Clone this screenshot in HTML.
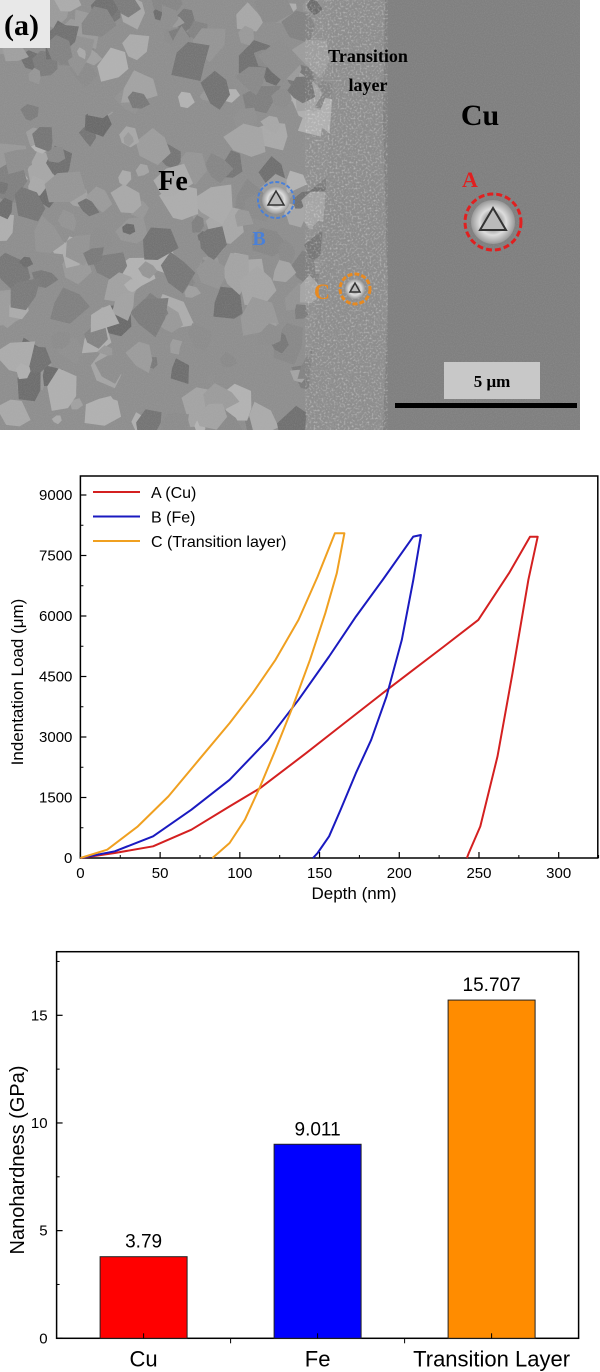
<!DOCTYPE html>
<html><head><meta charset="utf-8">
<style>
html,body{margin:0;padding:0;background:#fff;width:600px;height:1372px;overflow:hidden}
svg{display:block;position:absolute;left:0}
text{font-family:"Liberation Sans",Arial,sans-serif}
</style></head>
<body>
<svg id="sem" width="600" height="440" style="top:0">
  <defs>
    <clipPath id="imgclip"><rect x="0" y="0" width="580" height="430"/></clipPath>
    <filter id="noise" x="0" y="0" width="100%" height="100%">
      <feTurbulence type="fractalNoise" baseFrequency="0.9" numOctaves="2" seed="3"/>
      <feColorMatrix type="matrix" values="0 0 0 0 0.5  0 0 0 0 0.5  0 0 0 0 0.5  0 0 0 0.9 -0.3"/>
    </filter>
    <filter id="speck" x="0" y="0" width="100%" height="100%">
      <feTurbulence type="fractalNoise" baseFrequency="0.5" numOctaves="2" seed="7"/>
      <feColorMatrix type="matrix" values="0 0 0 0 1  0 0 0 0 1  0 0 0 0 1  0 0 0 3 -1.5"/>
    </filter>
    <radialGradient id="ind" cx="50%" cy="50%" r="50%">
      <stop offset="0" stop-color="#555"/><stop offset="0.6" stop-color="#ddd"/><stop offset="1" stop-color="#999"/>
    </radialGradient>
  </defs>
  <g clip-path="url(#imgclip)">
  <rect x="0" y="0" width="580" height="430" fill="#8e8e8e"/>
  <g id="grains"></g>
  <rect x="380" y="0" width="200" height="430" fill="#7f7f7f"/>
  <path d="M330 0 L385 0 L383 120 L388 300 L383 430 L305 430 L315 320 L325 200 L332 100 Z" fill="#8c8c8c"/>
  <path d="M330 0 L385 0 L383 120 L388 300 L383 430 L305 430 L315 320 L325 200 L332 100 Z" fill="#fff" filter="url(#speck)" opacity="0.35"/>
  <rect x="0" y="0" width="580" height="430" filter="url(#noise)" opacity="0.35"/>
  </g>
  <rect x="0" y="0" width="50" height="48" fill="#e8e8e8"/>
  <text x="4" y="35" font-weight="bold" font-size="30" style="font-family:'Liberation Serif',serif">(a)</text>
  <g font-weight="bold">
    <text x="368" y="62" font-size="18" text-anchor="middle" style="font-family:'Liberation Serif',serif">Transition</text>
    <text x="368" y="91" font-size="18" text-anchor="middle" style="font-family:'Liberation Serif',serif">layer</text>
    <text x="480" y="125" font-size="30" text-anchor="middle" style="font-family:'Liberation Serif',serif">Cu</text>
    <text x="173" y="190" font-size="28" text-anchor="middle" style="font-family:'Liberation Serif',serif">Fe</text>
    <text x="470" y="187" font-size="22" fill="#e02020" text-anchor="middle" style="font-family:'Liberation Serif',serif">A</text>
    <text x="259" y="245" font-size="20" fill="#4a80d8" text-anchor="middle" style="font-family:'Liberation Serif',serif">B</text>
    <text x="322" y="299" font-size="22" fill="#e88a20" text-anchor="middle" style="font-family:'Liberation Serif',serif">C</text>
  </g>
  <g>
    <circle cx="493" cy="222" r="22" fill="url(#ind)"/>
    <path d="M493 208 L480 230 L506 230 Z" fill="#bbb" stroke="#333" stroke-width="2"/>
    <circle cx="493" cy="222" r="28" fill="none" stroke="#e02020" stroke-width="3" stroke-dasharray="6 3"/>
  </g>
  <g>
    <circle cx="276" cy="200" r="14" fill="url(#ind)"/>
    <path d="M276 191 L268 205 L284 205 Z" fill="#bbb" stroke="#333" stroke-width="1.5"/>
    <circle cx="276" cy="200" r="18" fill="none" stroke="#4a80d8" stroke-width="2" stroke-dasharray="4 2"/>
  </g>
  <g>
    <circle cx="355" cy="289" r="10" fill="url(#ind)"/>
    <path d="M355 283 L350 292 L360 292 Z" fill="#bbb" stroke="#333" stroke-width="1.5"/>
    <circle cx="355" cy="289" r="15" fill="none" stroke="#e88a20" stroke-width="3" stroke-dasharray="5 2"/>
  </g>
  <rect x="444" y="362" width="96" height="37" fill="#c8c8c8"/>
  <text x="492" y="387" font-size="17" font-weight="bold" text-anchor="middle" style="font-family:'Liberation Serif',serif">5 μm</text>
  <rect x="395" y="403" width="182" height="5" fill="#000"/>
</svg>

<svg id="lc" width="600" height="480" style="top:440px">
  <g id="lcg" transform="translate(0,-440)"></g>
</svg>

<svg id="bc" width="600" height="452" style="top:920px">
  <g id="bcg" transform="translate(0,-920)"></g>
</svg>

<script>
// ---------- line chart data ----------
const aDepth = [0,21.6,45.6,69.6,93.6,112.8,141.6,165.6,189.6,208.8,228,249.6,268.8,282,286.8,281,271,261.6,250.8,243.6,242.4];
const aLoad  = [0,124,289,702,1280,1734,2601,3344,4087,4665,5243,5904,7060,7967,7967,6900,4583,2518,784,124,0];
const bDepth = [0,21.6,45.6,69.6,93.6,117.6,136.8,156,172.8,189.6,208.8,213.6,208.8,201.6,192,182.4,172.8,163.2,156,148.8,145.9];
const bLoad  = [0,165,537,1197,1940,2931,3922,4996,5986,6895,7968,8009,6895,5408,4004,2931,2106,1197,537,124,0];
const cDepth = [0,16.8,36,55.2,74.4,93.6,108,122.4,136.8,148.8,159.6,165.6,160.8,153.6,144,133.2,122.4,112.8,103.2,93.6,86.4,82.8];
const cLoad  = [0,206,784,1528,2436,3344,4087,4913,5904,6977,8051,8051,7060,6069,4913,3757,2684,1775,950,372,124,0];
const seriesNames = ["A (Cu)","B (Fe)","C (Transition layer)"];
const xTicks = [0,50,100,150,200,250,300];
const yTicks = [0,1500,3000,4500,6000,7500,9000];

// ---------- bar chart data ----------
const categories = ["Cu","Fe","Transition Layer"];
const hardness = [3.79,9.011,15.707];
const hardnessLabels = ["3.79","9.011","15.707"];
const barTicks = [0,5,10,15];

const NS="http://www.w3.org/2000/svg";
function mk(parent,tag,attrs,txt){const e=document.createElementNS(NS,tag);for(const k in attrs)e.setAttribute(k,attrs[k]);if(txt!=null)e.textContent=txt;parent.appendChild(e);return e;}

// SEM grains decoration (deterministic)
(function(){
  const g=document.getElementById('grains');
  let s=12345;function r(){s=(s*16807)%2147483647;return s/2147483647;}
  for(let i=0;i<260;i++){
    const cx=r()*335,cy=r()*430,rad=6+r()*16;
    const sh=Math.round(105+r()*75);
    let pts=[];const n=6;
    for(let k=0;k<n;k++){const a=k/n*Math.PI*2+r()*0.5;const rr=rad*(0.6+r()*0.6);pts.push((cx+Math.cos(a)*rr).toFixed(1)+','+(cy+Math.sin(a)*rr).toFixed(1));}
    const p=mk(g,'polygon',{points:pts.join(' '),fill:`rgb(${sh},${sh},${sh})`});
    
    
  }
})();

// ---------- line chart ----------
(function(){
  const g=document.getElementById('lcg');
  const L=80.4,R=597.8,T=476,B=858;
  const x=d=>L+d*(558.7-L)/300;
  const y=v=>B-v*(B-495)/9000;
  const box=mk(g,'rect',{x:L,y:T,width:R-L,height:B-T,fill:'none',stroke:'#000','stroke-width':1.5});
  
  
  xTicks.forEach(t=>{
    const l=mk(g,'line',{x1:x(t),x2:x(t),y1:B,y2:B-6,stroke:'#000','stroke-width':1.2});
    
    
    const m=mk(g,'line',{x1:x(t+25),x2:x(t+25),y1:B,y2:B-3,stroke:'#000','stroke-width':1});
    
    
    const tx=mk(g,'text',{x:x(t),y:B+20,'font-size':15,'text-anchor':'middle'},t);
    
    
  });
  yTicks.forEach(t=>{
    const l=mk(g,'line',{x1:L,x2:L+6,y1:y(t),y2:y(t),stroke:'#000','stroke-width':1.2});
    
    
    if(t<9000){
      const m=mk(g,'line',{x1:L,x2:L+3,y1:y(t+750),y2:y(t+750),stroke:'#000','stroke-width':1});
      
      
    }
    const tx=mk(g,'text',{x:L-8,y:y(t)+5,'font-size':15,'text-anchor':'end'},t);
    
    
  });
  const xt=mk(g,'text',{x:354,y:899,'font-size':17,'text-anchor':'middle'},'Depth (nm)');
  
  
  const yt=mk(g,'text',{x:0,y:0,'font-size':17,'text-anchor':'middle',transform:'translate(23,682) rotate(-90)'},'Indentation Load (μm)');
  
  
  const sets=[[aDepth,aLoad,'#d42020','series-a-cu'],[bDepth,bLoad,'#1a1ac0','series-b-fe'],[cDepth,cLoad,'#f0a020','series-c-transition']];
  sets.forEach(([dx,dy,col,nm],i)=>{
    const pts=dx.map((d,k)=>x(d).toFixed(1)+','+y(dy[k]).toFixed(1)).join(' ');
    const pl=mk(g,'polyline',{points:pts,fill:'none',stroke:col,'stroke-width':2,'stroke-linejoin':'round'});
    
    
    const ly=492+i*24.5;
    const ll=mk(g,'line',{x1:93,x2:140,y1:ly,y2:ly,stroke:col,'stroke-width':2});
    
    
    const lt=mk(g,'text',{x:151,y:ly+6,'font-size':16},seriesNames[i]);
    
    
  });
})();

// ---------- bar chart ----------
(function(){
  const g=document.getElementById('bcg');
  const L=56.6,R=578.6,T=951.7,B=1338.3;
  const y=v=>B-v*(B-1015.3)/15;
  const step=(R-L)/3;
  const cx=i=>L+step*(i+0.5);
  const bw=87;
  const box=mk(g,'rect',{x:L,y:T,width:R-L,height:B-T,fill:'none',stroke:'#000','stroke-width':1.5});
  
  
  const cols=['#ff0000','#0000ff','#ff8c00'];
  const names=['bar-cu','bar-fe','bar-transition-layer'];
  hardness.forEach((v,i)=>{
    const r=mk(g,'rect',{x:cx(i)-bw/2,y:y(v),width:bw,height:B-y(v),fill:cols[i],stroke:'#222','stroke-width':1});
    
    
    const t=mk(g,'text',{x:cx(i),y:y(v)-9,'font-size':19,'text-anchor':'middle'},hardnessLabels[i]);
    
    
    const c=mk(g,'text',{x:cx(i),y:B+28,'font-size':22,'text-anchor':'middle'},categories[i]);
    
    
    const tk=mk(g,'line',{x1:cx(i),x2:cx(i),y1:B,y2:B-5,stroke:'#000'});
    
    
    if(i>0){
      const tb=mk(g,'line',{x1:L+step*i,x2:L+step*i,y1:B,y2:B+5,stroke:'#000'});
      
      
    }
  });
  barTicks.forEach(t=>{
    const l=mk(g,'line',{x1:L,x2:L+6,y1:y(t),y2:y(t),stroke:'#000','stroke-width':1.2});
    
    
    const m=mk(g,'line',{x1:L,x2:L+3,y1:y(t+2.5),y2:y(t+2.5),stroke:'#000'});
    
    
    const tx=mk(g,'text',{x:L-9,y:y(t)+5,'font-size':15,'text-anchor':'end'},t);
    
    
  });
  const yt=mk(g,'text',{x:0,y:0,'font-size':20,'text-anchor':'middle',transform:'translate(24,1160) rotate(-90)'},'Nanohardness (GPa)');
  
  
})();
</script>
</body></html>
